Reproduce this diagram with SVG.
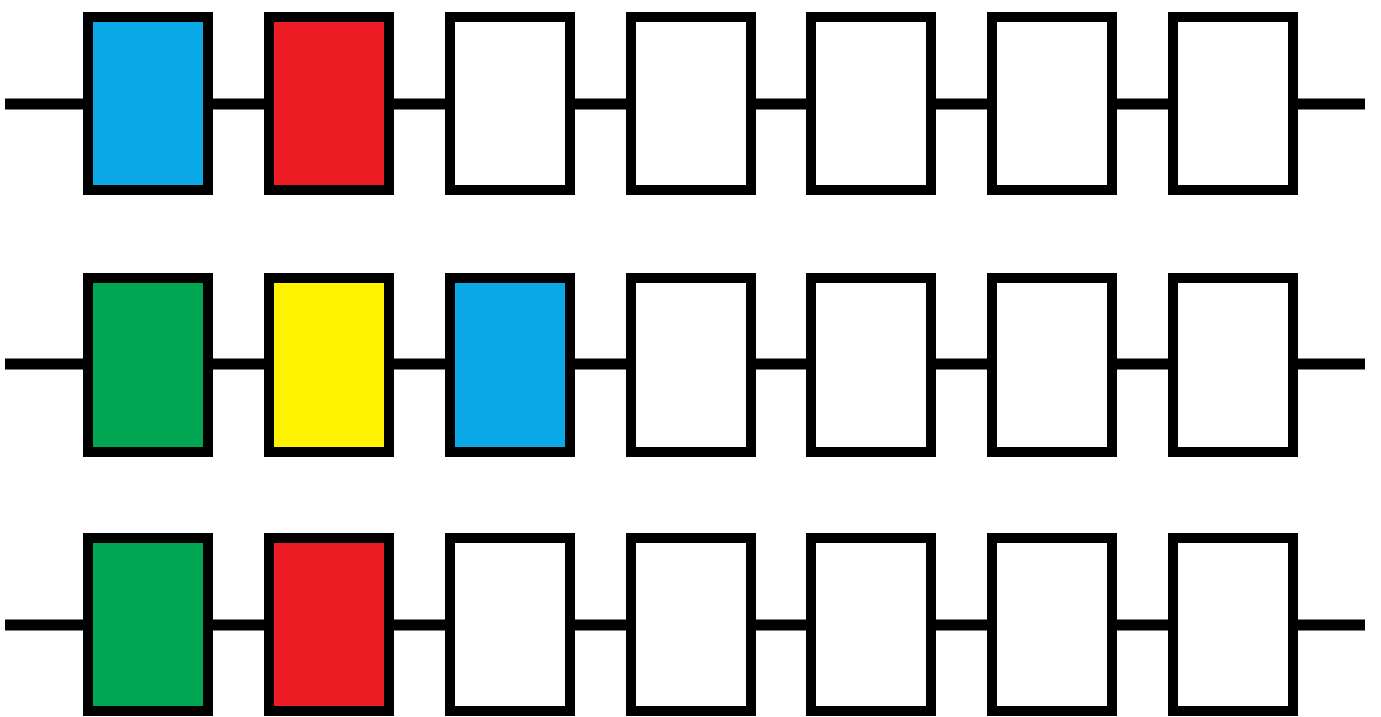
<svg xmlns="http://www.w3.org/2000/svg" width="1381" height="717" viewBox="0 0 1381 717">
<style>
.bx{stroke:#000;stroke-width:10;}
.w{fill:#fff}.b{fill:#0ba8e8}.r{fill:#ed1c24}.g{fill:#00a651}.y{fill:#fff200}
.cn line{stroke:#000;stroke-width:11;}
</style>
<rect width="1381" height="717" fill="#fff"/>
<g id="connectors" class="cn">
<line x1="5" y1="104" x2="88" y2="104"/><line x1="208" y1="104" x2="269" y2="104"/><line x1="389" y1="104" x2="450" y2="104"/><line x1="570" y1="104" x2="631" y2="104"/><line x1="751" y1="104" x2="811" y2="104"/><line x1="931" y1="104" x2="992" y2="104"/><line x1="1112" y1="104" x2="1173" y2="104"/><line x1="1293" y1="104" x2="1365" y2="104"/>
<line x1="5" y1="364" x2="88" y2="364"/><line x1="208" y1="364" x2="269" y2="364"/><line x1="389" y1="364" x2="450" y2="364"/><line x1="570" y1="364" x2="631" y2="364"/><line x1="751" y1="364" x2="811" y2="364"/><line x1="931" y1="364" x2="992" y2="364"/><line x1="1112" y1="364" x2="1173" y2="364"/><line x1="1293" y1="364" x2="1365" y2="364"/>
<line x1="5" y1="625" x2="88" y2="625"/><line x1="208" y1="625" x2="269" y2="625"/><line x1="389" y1="625" x2="450" y2="625"/><line x1="570" y1="625" x2="631" y2="625"/><line x1="751" y1="625" x2="811" y2="625"/><line x1="931" y1="625" x2="992" y2="625"/><line x1="1112" y1="625" x2="1173" y2="625"/><line x1="1293" y1="625" x2="1365" y2="625"/>
</g>
<g id="r1b1"><rect class="bx b" x="88" y="17" width="120" height="173"/></g>
<g id="r1b2"><rect class="bx r" x="269" y="17" width="120" height="173"/></g>
<g id="r1b3"><rect class="bx w" x="450" y="17" width="120" height="173"/></g>
<g id="r1b4"><rect class="bx w" x="631" y="17" width="120" height="173"/></g>
<g id="r1b5"><rect class="bx w" x="811" y="17" width="120" height="173"/></g>
<g id="r1b6"><rect class="bx w" x="992" y="17" width="120" height="173"/></g>
<g id="r1b7"><rect class="bx w" x="1173" y="17" width="120" height="173"/></g>
<g id="r2b1"><rect class="bx g" x="88" y="278" width="120" height="174"/></g>
<g id="r2b2"><rect class="bx y" x="269" y="278" width="120" height="174"/></g>
<g id="r2b3"><rect class="bx b" x="450" y="278" width="120" height="174"/></g>
<g id="r2b4"><rect class="bx w" x="631" y="278" width="120" height="174"/></g>
<g id="r2b5"><rect class="bx w" x="811" y="278" width="120" height="174"/></g>
<g id="r2b6"><rect class="bx w" x="992" y="278" width="120" height="174"/></g>
<g id="r2b7"><rect class="bx w" x="1173" y="278" width="120" height="174"/></g>
<g id="r3b1"><rect class="bx g" x="88" y="538" width="120" height="173"/></g>
<g id="r3b2"><rect class="bx r" x="269" y="538" width="120" height="173"/></g>
<g id="r3b3"><rect class="bx w" x="450" y="538" width="120" height="173"/></g>
<g id="r3b4"><rect class="bx w" x="631" y="538" width="120" height="173"/></g>
<g id="r3b5"><rect class="bx w" x="811" y="538" width="120" height="173"/></g>
<g id="r3b6"><rect class="bx w" x="992" y="538" width="120" height="173"/></g>
<g id="r3b7"><rect class="bx w" x="1173" y="538" width="120" height="173"/></g>
</svg>
